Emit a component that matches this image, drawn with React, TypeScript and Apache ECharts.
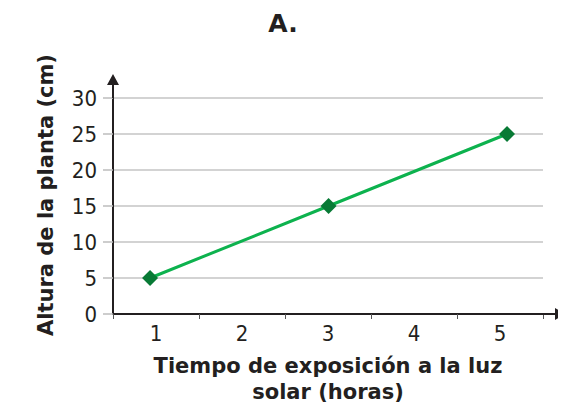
import React, { useEffect, useRef } from "react";
import * as echarts from "echarts";

const categories = ["1", "2", "3", "4", "5"];
const hours = [1, 3, 5];
const heights = [5, 15, 25];
const yTicks = { min: 0, max: 30, interval: 5 };

const FONT = "'DejaVu Sans Condensed', 'DejaVu Sans', Verdana, sans-serif";
const BOLD = "'DejaVu Sans', Verdana, sans-serif";
const DARK = "#231f20";

export default function App() {
  const ref = useRef<HTMLDivElement>(null);
  useEffect(() => {
    if (!ref.current) return;
    const chart = echarts.init(ref.current, undefined, { renderer: "svg" });
    chart.setOption({
      animation: false,
      backgroundColor: "#ffffff",
      title: {
        text: "A.",
        left: "center",
        top: 6,
        textStyle: { fontFamily: BOLD, fontSize: 25, fontWeight: "bold", color: DARK },
      },
      grid: { left: 113, right: 23, top: 98, bottom: 97, outerBoundsMode: "none", containLabel: false },
      xAxis: [
        {
          type: "category",
          data: categories,
          boundaryGap: true,
          name: "Tiempo de exposición a la luz\nsolar (horas)",
          nameLocation: "middle",
          nameGap: 39,
          nameTextStyle: { fontFamily: BOLD, fontSize: 21, fontWeight: "bold", color: DARK, lineHeight: 26 },
          axisLine: {
            lineStyle: { color: DARK, width: 2 },
            symbol: ["none", "path://M6,0 L12,10 L7,10 L7,22 L5,22 L5,10 L0,10 Z"],
            symbolSize: [12, 22],
            symbolOffset: [0, 11],
          },
          axisTick: { show: true, length: 5, lineStyle: { color: "#555", width: 1 } },
          axisLabel: { fontFamily: FONT, fontSize: 22, color: DARK, margin: 8 },
          splitLine: { show: false },
        },
        {
          type: "value",
          min: 0.585,
          max: 5.403,
          show: false,
        },
      ],
      yAxis: {
        type: "value",
        min: yTicks.min,
        max: yTicks.max,
        interval: yTicks.interval,
        name: "Altura de la planta (cm)",
        nameLocation: "middle",
        nameGap: 57,
        nameTextStyle: {
          fontFamily: BOLD,
          fontSize: 21,
          fontWeight: "bold",
          color: DARK,
          padding: [0, 0, 0, 22],
        },
        axisLine: {
          show: true,
          lineStyle: { color: DARK, width: 2 },
          symbol: ["none", "path://M6,0 L12,11 L7,11 L7,24 L5,24 L5,11 L0,11 Z"],
          symbolSize: [12, 24],
          symbolOffset: [0, 12],
        },
        axisTick: { show: true, length: 10, lineStyle: { color: "#bdbdbd", width: 1.5 } },
        axisLabel: { fontFamily: FONT, fontSize: 22, color: DARK, margin: 16 },
        splitLine: { show: true, lineStyle: { color: "#c4c4c4", width: 1.5 } },
      },
      series: [
        {
          type: "line",
          xAxisIndex: 1,
          data: hours.map((h, i) => [h, heights[i]]),
          symbol: "diamond",
          symbolSize: 16,
          lineStyle: { color: "#0db24e", width: 3 },
          itemStyle: { color: "#087a35" },
          z: 5,
        },
      ],
    });
    return () => chart.dispose();
  }, []);
  return <div ref={ref} style={{ width: 566, height: 411, margin: -8 }} />;
}
